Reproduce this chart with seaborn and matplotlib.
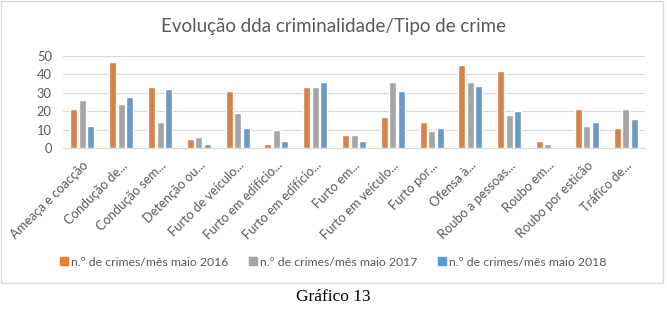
import pandas as pd
import matplotlib.pyplot as plt
import seaborn as sns
from matplotlib.patches import Rectangle

# tipos de crime (rótulos truncados como no original)
tipos = ["Ameaça e coacção", "Condução de...", "Condução sem...", "Detenção ou...",
         "Furto de veículo...", "Furto em edifício...", "Furto em edifício...",
         "Furto em...", "Furto em veículo...", "Furto por...", "Ofensa à...",
         "Roubo a pessoas...", "Roubo em...", "Roubo por esticão", "Tráfico de..."]
series = ["n.º de crimes/mês maio 2016", "n.º de crimes/mês maio 2017",
          "n.º de crimes/mês maio 2018"]
maio_2016 = [21, 47, 33, 5, 31, 2, 33, 7, 17, 14, 45, 42, 4, 21, 11]
maio_2017 = [26, 24, 14, 6, 19, 10, 33, 7, 36, 9, 36, 18, 2, 12, 21]
maio_2018 = [12, 28, 32, 2, 11, 4, 36, 4, 31, 11, 34, 20, 0, 14, 16]
cores = ["#ED7D31", "#A5A5A5", "#5B9BD5"]

# posicoes unicas para os rotulos repetidos
idx = list(range(len(tipos)))
df = pd.DataFrame({
    "pos": idx * 3,
    "valor": maio_2016 + maio_2017 + maio_2018,
    "serie": [s for s in series for _ in idx],
})

sns.set_style("white")
plt.rcParams["font.family"] = ["Lato", "DejaVu Sans"]
cinza = "#595959"

fig = plt.figure(figsize=(6.67, 3.15), dpi=100)
ax = fig.add_axes([0.0945, 0.530, 0.8725, 0.292])
sns.barplot(data=df, x="pos", y="valor", hue="serie", palette=cores,
            width=0.66, gap=0.18, ax=ax, legend=False)

ax.set_ylim(0, 50)
ax.set_yticks(range(0, 51, 10))
ax.yaxis.grid(True, color="#D9D9D9", linewidth=0.8)
ax.set_axisbelow(True)
for s in ["top", "right", "left"]:
    ax.spines[s].set_visible(False)
ax.spines["bottom"].set_color("#D9D9D9")
ax.set_xlabel("")
ax.set_ylabel("")
ax.set_xticks(idx)
ax.set_xticklabels(tipos, rotation=45, ha="right", rotation_mode="anchor")
ax.tick_params(axis="both", length=0, labelsize=9.3, colors=cinza)
ax.tick_params(axis="x", pad=8)
ax.tick_params(axis="y", pad=8)

fig.text(0.5, 0.915, "Evolução dda criminalidade/Tipo de crime", ha="center",
         va="center", fontsize=13.5, color=cinza)

handles = [Rectangle((0, 0), 1, 1, color=c) for c in cores]
fig.legend(handles, series, loc="center", bbox_to_anchor=(0.5, 0.168), ncol=3,
           frameon=False, fontsize=8.8, labelcolor=cinza, handlelength=0.6,
           handleheight=0.6, handletextpad=0.3, columnspacing=1.7)

# moldura do grafico
fig.patches.append(Rectangle((0.0015, 0.1016), 0.9925, 0.895, transform=fig.transFigure,
                             fill=False, edgecolor="#D9D9D9", linewidth=1))
fig.text(0.5, 0.057, "Gráfico 13", ha="center", va="center", fontsize=12.5,
         family="Liberation Serif", color="black")

fig.savefig("out.png", dpi=100)
